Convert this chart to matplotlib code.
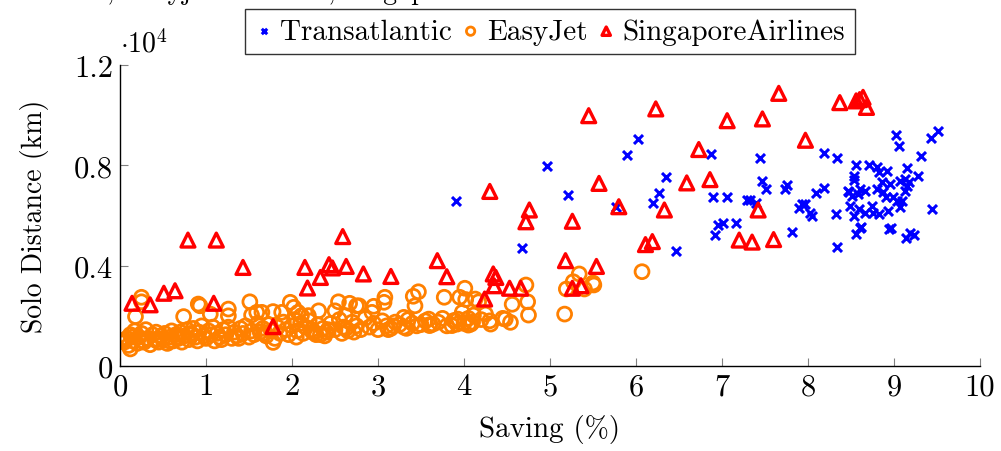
import matplotlib
matplotlib.use("Agg")
import matplotlib.pyplot as plt
import numpy as np

plt.rcParams['font.family'] = ['cmr10', 'DejaVu Serif']
plt.rcParams['mathtext.fontset'] = 'cm'
plt.rcParams['axes.unicode_minus'] = False

# ---------------- data ----------------
ta_x = [3.91, 4.68, 4.97, 5.21, 5.77, 5.90, 6.02, 6.20, 6.27, 6.35, 6.47, 6.87, 6.90,
        6.92, 6.95, 7.01, 7.06, 7.16, 7.29, 7.33, 7.40, 7.44, 7.47, 7.51, 7.73, 7.76,
        7.81, 7.89, 7.93, 7.97, 8.02, 8.05, 8.09, 8.19, 8.19, 8.33, 8.34, 8.34, 8.47,
        8.48, 8.49, 8.51, 8.53, 8.53, 8.53, 8.56, 8.56, 8.58, 8.59, 8.60, 8.60, 8.62,
        8.66, 8.66, 8.71, 8.74, 8.76, 8.80, 8.80, 8.82, 8.82, 8.86, 8.87, 8.91, 8.92,
        8.93, 8.94, 8.95, 8.96, 8.99, 9.02, 9.03, 9.06, 9.07, 9.07, 9.09, 9.13, 9.13,
        9.14, 9.15, 9.15, 9.18, 9.19, 9.23, 9.28, 9.31, 9.43, 9.44, 9.51]
ta_y = [6590, 4700, 7990, 6820, 6330, 8410, 9030, 6490, 6890, 7520, 4600, 8450, 6730,
        5220, 5630, 5700, 6750, 5700, 6620, 6620, 6490, 8290, 7360, 7040, 7060, 7230,
        5330, 6280, 6440, 6440, 6100, 5970, 6890, 8480, 7100, 6060, 8290, 4730, 6990,
        6920, 6390, 6790, 7560, 7430, 5990, 8000, 5260, 6860, 6260, 7060, 5500, 5530,
        6990, 6100, 8010, 6390, 6100, 7920, 7060, 7720, 6060, 7320, 6920, 6720, 7760,
        6190, 5460, 7260, 5500, 6720, 9220, 6590, 8780, 7390, 6330, 6590, 7460, 6990,
        5100, 7890, 7190, 7320, 5300, 5240, 7570, 8360, 9070, 6270, 9350]

ej_x = [0.03, 0.12, 0.18, 0.25, 0.25, 0.74, 0.91, 0.93, 1.05, 1.26, 1.26, 1.51, 1.53,
        1.59, 1.65, 1.78, 1.88, 1.98, 2.02, 2.07, 2.11, 2.19, 2.31, 2.50, 2.54, 2.62,
        2.67, 2.75, 2.78, 2.93, 2.95, 3.07, 3.08, 3.30, 3.41, 3.43, 3.47, 3.59, 3.60,
        3.64, 3.77, 3.86, 3.88, 3.92, 3.93, 3.95, 3.98, 4.01, 4.02, 4.05, 4.08, 4.11,
        4.13, 4.17, 4.25, 4.31, 4.48, 4.54, 4.56, 4.72, 4.74, 4.75, 5.17, 5.19, 5.27,
        5.34, 5.40, 5.50, 5.51, 6.07, 1.78,
        0.05, 0.08, 0.10, 0.12, 0.15, 0.17, 0.20, 0.22, 0.25, 0.27, 0.30, 0.32, 0.35,
        0.38, 0.40, 0.42, 0.45, 0.48, 0.50, 0.52, 0.55, 0.58, 0.60, 0.62, 0.65, 0.68,
        0.70, 0.72, 0.75, 0.78, 0.80, 0.82, 0.85, 0.88, 0.90, 0.92, 0.95, 0.98, 1.00,
        1.03, 1.06, 1.08, 1.10, 1.13, 1.16, 1.20, 1.23, 1.26, 1.30, 1.33, 1.36, 1.40,
        1.43, 1.46, 1.50, 1.53, 1.56, 1.60, 1.63, 1.66, 1.70, 1.73, 1.76, 1.80, 1.83,
        1.86, 1.90, 1.93, 1.96, 2.00, 2.03, 2.06, 2.10, 2.13, 2.16, 2.20, 2.23, 2.26,
        2.30, 2.33, 2.36, 2.40, 2.45, 2.50, 2.55, 2.60, 2.65, 2.70, 2.75, 2.80, 2.85,
        2.90, 2.95, 3.00, 3.05, 3.10, 3.15, 3.20, 3.25, 3.30, 3.35, 3.40, 3.45, 3.55,
        3.60, 3.70, 3.75, 3.80, 3.90, 4.00, 4.05, 4.10, 4.20, 4.30, 4.45,
        0.14, 0.28, 0.44, 0.57, 0.66, 0.84, 1.18, 1.38, 1.68, 2.05, 2.24, 2.28, 2.38,
        2.42, 2.58, 2.63, 2.72, 3.12, 3.18, 3.33, 3.50]
ej_y = [1010, 680, 1970, 2740, 2560, 1970, 2470, 2400, 2070, 2270, 2000, 2560, 2030,
        2140, 2140, 2170, 2140, 2540, 2340, 2140, 2010, 2010, 2200, 2200, 2560, 2010,
        2500, 2400, 2400, 2140, 2380, 2540, 2740, 1940, 2780, 2400, 2960, 1870, 1610,
        1670, 2740, 1610, 1810, 1670, 1870, 2740, 2140, 3100, 2650, 1630, 1670, 2030,
        2670, 2560, 2070, 1670, 1870, 1740, 2460, 3230, 2560, 2030, 2070, 3070, 3360,
        3670, 3070, 3310, 3230, 3760, 940,
        950, 1100, 820, 1250, 1000, 1400, 900, 1150, 1300, 1000, 1450, 1100, 850,
        1250, 1050, 1350, 950, 1200, 1100, 1300, 900, 1150, 1400, 1000, 1250, 1100,
        1350, 950, 1200, 1450, 1050, 1300, 1500, 1150, 1000, 1350, 1600, 1200, 1100,
        1400, 1250, 1550, 1000, 1300, 1150, 1450, 1250, 1550, 1100, 1350, 1200, 1500,
        1300, 1600, 1150, 1400, 1250, 1700, 1350, 1500, 1200, 1650, 1400, 1100, 1550,
        1300, 1750, 1450, 1250, 1600, 1850, 1400, 1700, 1300, 1550, 1800, 1450, 1350,
        1650, 1250, 1500, 1350, 1700, 1450, 1850, 1550, 1400, 1750, 1600, 1450, 1900,
        1550, 1700, 1450, 1800, 1600, 1500, 1750, 1650, 1550, 1850, 1700, 1600, 1800,
        1650, 1750, 1900, 1600, 1800, 1700, 1900, 1750, 1850, 1800, 1900,
        1150, 950, 1050, 1000, 1150, 1250, 1050, 1100, 1300, 1150, 1350, 1250, 1200,
        1450, 1300, 1500, 1350, 1450, 1600, 1500, 1650]

sa_x = [0.14, 0.35, 0.51, 0.64, 0.79, 1.12, 1.09, 1.43, 1.78, 2.15, 2.18, 2.33, 2.43,
        2.47, 2.59, 2.63, 2.83, 3.15, 3.69, 3.80, 4.30, 4.24, 4.34, 4.37, 4.35, 4.53,
        4.66, 4.72, 4.76, 5.45, 6.23, 7.66, 8.37, 8.56, 8.60, 8.64, 8.68, 7.06, 7.47,
        7.97, 6.73, 5.57, 6.59, 6.86, 5.80, 6.33, 7.42, 5.26, 6.11, 6.19, 7.20, 7.35,
        7.60, 5.18, 5.54, 5.26, 5.36]
sa_y = [2500, 2440, 2900, 3000, 5020, 5020, 2500, 3930, 1570, 3930, 3110, 3530, 4040,
        3910, 5160, 3970, 3670, 3570, 4200, 3560, 6960, 2670, 3670, 3530, 3200, 3100,
        3100, 5750, 6220, 9980, 10250, 10870, 10500, 10570, 10620, 10710, 10310, 9780,
        9850, 9000, 8630, 7280, 7300, 7430, 6350, 6220, 6220, 5770, 4840, 4960, 5020,
        4940, 5040, 4200, 3970, 3100, 3200]

series_names = ['Transatlantic', 'EasyJet', 'SingaporeAirlines']
x_ticks = [0, 1, 2, 3, 4, 5, 6, 7, 8, 9, 10]
y_ticks = [0, 4000, 8000, 12000]
y_ticklabels = ['0', '0.4', '0.8', '1.2']
title_text = 'Distance, Easyjet and Solo, Singapore Airlines'

# ---------------- plot ----------------
fig = plt.figure(figsize=(10.01, 4.52), dpi=100)
ax = fig.add_axes([120/1001, 1 - 367/452, 860/1001, 301/452])

ax.scatter(ta_x, ta_y, marker='x', s=42, c='#0000ff', linewidths=2.2,
           label=series_names[0], zorder=3)
ax.scatter(ej_x, ej_y, marker='o', s=100, facecolors='none', edgecolors='#ff8000',
           linewidths=2.0, label=series_names[1], zorder=2)
ax.scatter(sa_x, sa_y, marker='^', s=100, facecolors='none', edgecolors='#ff0000',
           linewidths=2.4, label=series_names[2], zorder=4)

ax.set_xlim(0, 10)
ax.set_ylim(0, 12000)
ax.set_xticks(x_ticks)
ax.set_xticklabels([str(t) for t in x_ticks])
ax.set_yticks(y_ticks)
ax.set_yticklabels(y_ticklabels)
ax.tick_params(direction='in', length=6, width=0.8, color='#808080',
               labelsize=22, pad=5)
ax.spines['top'].set_visible(False)
ax.spines['right'].set_visible(False)
for s in ('left', 'bottom'):
    ax.spines[s].set_linewidth(1.0)

ax.set_xlabel('Saving (%)', fontsize=21, labelpad=10)
ax.set_ylabel('Solo Distance (km)', fontsize=20, labelpad=18)
ax.text(0.0, 1.025, r'$\cdot10^4$', transform=ax.transAxes, fontsize=20,
        ha='left', va='bottom')

leg = ax.legend(loc='lower center', bbox_to_anchor=(0.5, 1.035), ncol=3,
                frameon=True, fancybox=False, edgecolor='black', fontsize=21,
                handlelength=0.6, handletextpad=0.25, columnspacing=0.35,
                borderpad=0.33, borderaxespad=0.0, markerscale=0.6)
leg.get_frame().set_linewidth(1.0)

fig.text(2/1001, 1 + 1/452, title_text, fontsize=20, ha='left', va='baseline')

fig.savefig('out.png', dpi=100)
